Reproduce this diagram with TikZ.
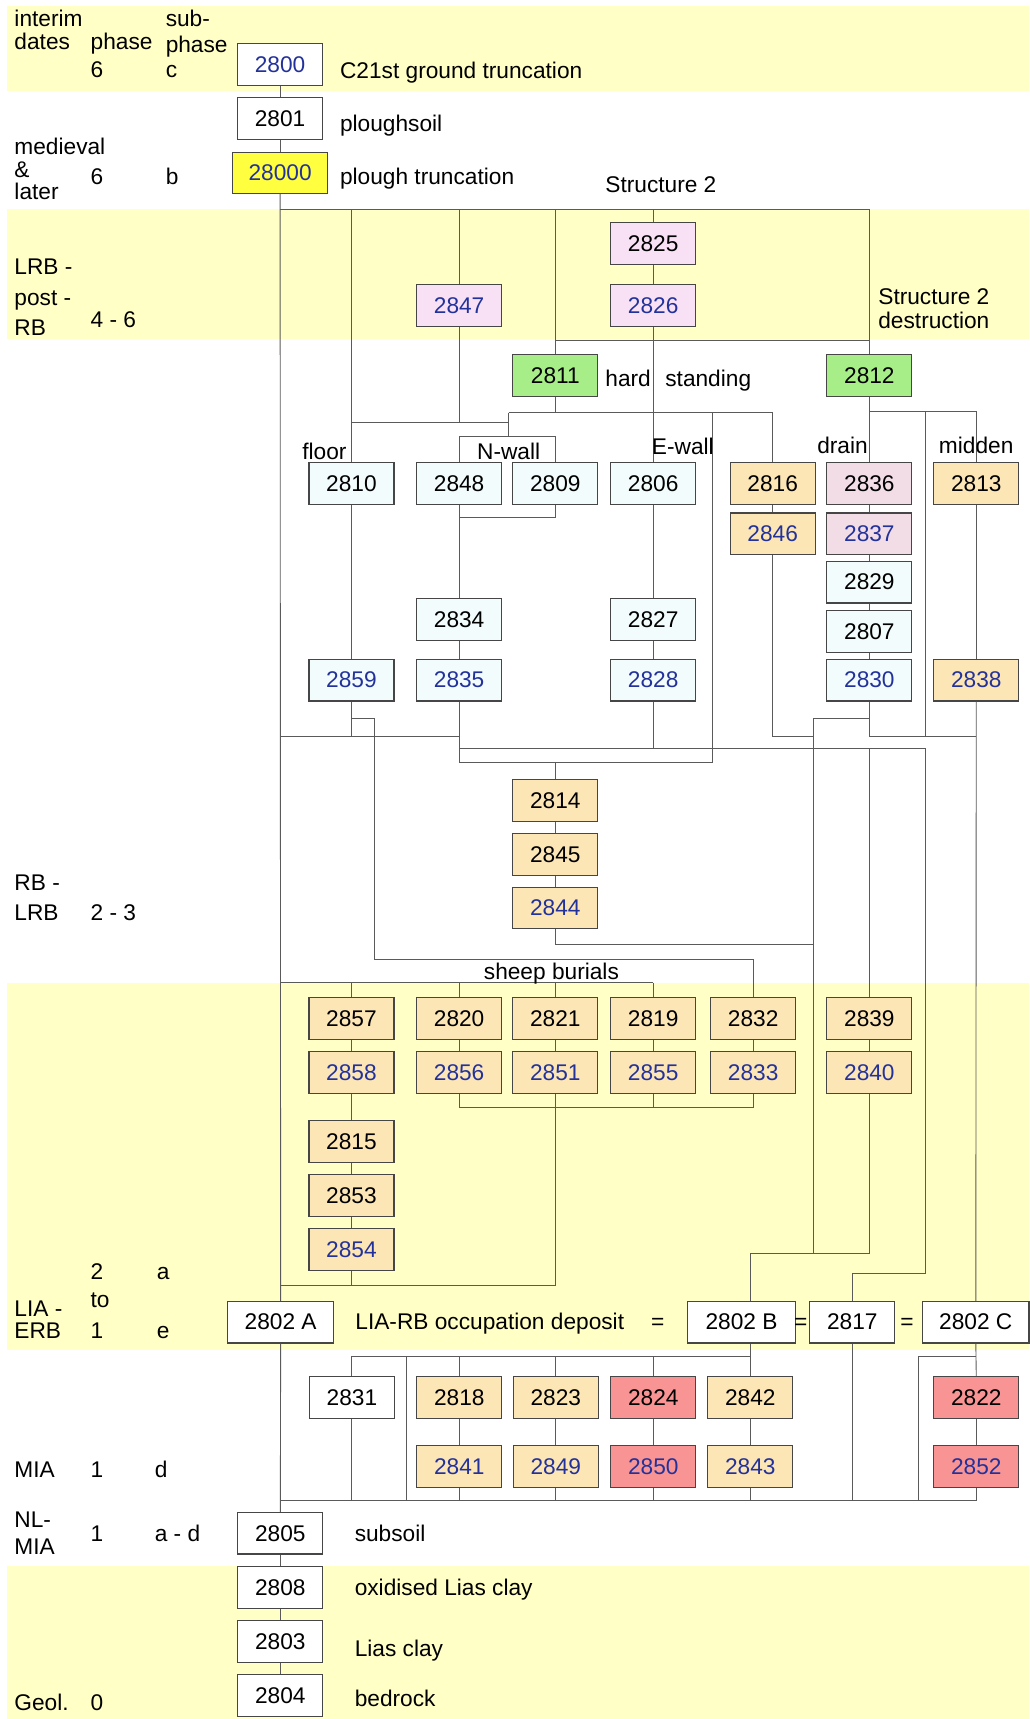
\documentclass[tikz,border=0pt]{standalone}
\usepackage{fontspec}
\setmainfont{Liberation Sans}
\definecolor{bandyellow}{RGB}{255,255,198}
\definecolor{cutyellow}{RGB}{255,255,64}
\definecolor{ctxpink}{RGB}{248,225,244}
\definecolor{drainpink}{RGB}{242,221,230}
\definecolor{hardgreen}{RGB}{168,238,136}
\definecolor{wallcyan}{RGB}{242,252,252}
\definecolor{fillorange}{RGB}{252,230,182}
\definecolor{burnred}{RGB}{249,148,148}
\definecolor{cutblue}{RGB}{35,50,155}
\definecolor{linegray}{RGB}{90,90,90}
\definecolor{boxgray}{RGB}{70,70,70}

\tikzstyle{ctx} = [draw=boxgray, line width=1pt, minimum width=77.5pt, minimum height=38pt, inner sep=0pt, font=\fontsize{20.7}{24}\selectfont]
\tikzstyle{cutno} = [text=cutblue]
\tikzstyle{plainbox} = [fill=white]
\tikzstyle{yellowbox} = [fill=cutyellow]
\tikzstyle{pinkbox} = [fill=ctxpink]
\tikzstyle{drainbox} = [fill=drainpink]
\tikzstyle{greenbox} = [fill=hardgreen]
\tikzstyle{cyanbox} = [fill=wallcyan]
\tikzstyle{orangebox} = [fill=fillorange]
\tikzstyle{redbox} = [fill=burnred]
\tikzstyle{lbl} = [inner sep=0pt, anchor=base west, font=\fontsize{20.7}{24}\selectfont]
\tikzstyle{eq} = [inner sep=0pt, anchor=base, font=\fontsize{20.7}{24}\selectfont]
\tikzstyle{link} = [draw=linegray, line width=0.8pt]

\begin{document}
\begin{tikzpicture}[x=1pt,y=-1pt]
\useasboundingbox (0,0) rectangle (939,1568);
\fill[bandyellow] (6.5,5.5) rectangle (939,82.7);
\fill[bandyellow] (6.5,190.7) rectangle (939,309.4);
\fill[bandyellow] (6.5,896.5) rectangle (939,1231);
\fill[bandyellow] (6.5,1428.8) rectangle (939,1568);

\coordinate (jtop) at (0,190.7);
\coordinate (jhs) at (0,310.3);
\coordinate (jdr) at (0,375.7);
\coordinate (jnw) at (463.9,376.3);
\coordinate (jfl) at (0,385.4);
\coordinate (nwall) at (463.9,398.5);
\coordinate (jnwb) at (0,472);
\coordinate (jew) at (649.8,376.3);
\coordinate (jmid) at (844,375.7);
\coordinate (jsh) at (0,655.5);
\coordinate (jpst) at (742.2,655.5);
\coordinate (jshp) at (341.5,655.5);
\coordinate (jlow) at (0,672);
\coordinate (jbar) at (0,682.3);
\coordinate (jpit) at (0,695.8);
\coordinate (jdep) at (0,861.5);
\coordinate (jshw) at (0,874.9);
\coordinate (jsb) at (0,896.5);
\coordinate (jsk) at (0,1010);
\coordinate (jbz) at (684.4,1143.5);
\coordinate (jst) at (0,1162);
\coordinate (jfa) at (0,1172.7);
\coordinate (jocc) at (0,1237.5);
\coordinate (jocl) at (370.7,1237.5);
\coordinate (jocr) at (837.4,1237.5);
\coordinate (jbase) at (0,1369);

\node[ctx, plainbox, cutno] (c2800) at (255.5,58.8) {2800};
\node[ctx, plainbox] (c2801) at (255.5,108) {2801};
\node[ctx, yellowbox, cutno, minimum width=87pt, minimum height=37.5pt] (c28000) at (255.5,157.7) {28000};
\node[ctx, pinkbox] (c2825) at (595.8,222.2) {2825};
\node[ctx, pinkbox, cutno] (c2826) at (595.8,278.9) {2826};
\node[ctx, pinkbox, cutno] (c2847) at (418.8,278.9) {2847};
\node[ctx, greenbox] (c2811) at (506.5,342.7) {2811};
\node[ctx, greenbox] (c2812) at (793,342.7) {2812};
\node[ctx, cyanbox] (c2810) at (320.6,440.9) {2810};
\node[ctx, cyanbox] (c2848) at (418.8,440.9) {2848};
\node[ctx, cyanbox] (c2809) at (506.5,440.9) {2809};
\node[ctx, cyanbox] (c2806) at (595.8,440.9) {2806};
\node[ctx, orangebox] (c2816) at (704.8,440.9) {2816};
\node[ctx, drainbox] (c2836) at (793,440.9) {2836};
\node[ctx, orangebox] (c2813) at (890.5,440.9) {2813};
\node[ctx, orangebox, cutno] (c2846) at (704.8,486.9) {2846};
\node[ctx, drainbox, cutno] (c2837) at (793,486.9) {2837};
\node[ctx, cyanbox] (c2829) at (793,531) {2829};
\node[ctx, cyanbox] (c2807) at (793,576.2) {2807};
\node[ctx, cyanbox] (c2834) at (418.8,565) {2834};
\node[ctx, cyanbox] (c2827) at (595.8,565) {2827};
\node[ctx, cyanbox, cutno] (c2859) at (320.6,620.4) {2859};
\node[ctx, cyanbox, cutno] (c2835) at (418.8,620.4) {2835};
\node[ctx, cyanbox, cutno] (c2828) at (595.8,620.4) {2828};
\node[ctx, cyanbox, cutno] (c2830) at (793,620.4) {2830};
\node[ctx, orangebox, cutno] (c2838) at (890.5,620.4) {2838};
\node[ctx, orangebox] (c2814) at (506.5,730.2) {2814};
\node[ctx, orangebox] (c2845) at (506.5,779.2) {2845};
\node[ctx, orangebox, cutno] (c2844) at (506.5,828.2) {2844};
\node[ctx, orangebox] (c2857) at (320.6,929.2) {2857};
\node[ctx, orangebox] (c2820) at (418.8,929.2) {2820};
\node[ctx, orangebox] (c2821) at (506.5,929.2) {2821};
\node[ctx, orangebox] (c2819) at (595.8,929.2) {2819};
\node[ctx, orangebox] (c2832) at (687,929.2) {2832};
\node[ctx, orangebox] (c2839) at (793,929.2) {2839};
\node[ctx, orangebox, cutno] (c2858) at (320.6,978.3) {2858};
\node[ctx, orangebox, cutno] (c2856) at (418.8,978.3) {2856};
\node[ctx, orangebox, cutno] (c2851) at (506.5,978.3) {2851};
\node[ctx, orangebox, cutno] (c2855) at (595.8,978.3) {2855};
\node[ctx, orangebox, cutno] (c2833) at (687,978.3) {2833};
\node[ctx, orangebox, cutno] (c2840) at (793,978.3) {2840};
\node[ctx, orangebox] (c2815) at (320.6,1041.1) {2815};
\node[ctx, orangebox] (c2853) at (320.6,1090.4) {2853};
\node[ctx, orangebox, cutno] (c2854) at (320.6,1139.7) {2854};
\node[ctx, plainbox, minimum width=97pt] (c2802a) at (256,1206) {2802 A};
\node[ctx, plainbox, minimum width=98pt] (c2802b) at (676.4,1206) {2802 B};
\node[ctx, plainbox] (c2817) at (777.4,1206) {2817};
\node[ctx, plainbox, minimum width=97pt] (c2802c) at (890.1,1206) {2802 C};
\node[ctx, plainbox] (c2831) at (321,1274.6) {2831};
\node[ctx, orangebox] (c2818) at (419,1274.6) {2818};
\node[ctx, orangebox] (c2823) at (507,1274.6) {2823};
\node[ctx, redbox] (c2824) at (595.9,1274.6) {2824};
\node[ctx, orangebox] (c2842) at (684.4,1274.6) {2842};
\node[ctx, redbox] (c2822) at (890.5,1274.6) {2822};
\node[ctx, orangebox, cutno] (c2841) at (419,1337.7) {2841};
\node[ctx, orangebox, cutno] (c2849) at (507,1337.7) {2849};
\node[ctx, redbox, cutno] (c2850) at (595.9,1337.7) {2850};
\node[ctx, orangebox, cutno] (c2843) at (684.4,1337.7) {2843};
\node[ctx, redbox, cutno] (c2852) at (890.5,1337.7) {2852};
\node[ctx, plainbox] (c2805) at (255.7,1398.5) {2805};
\node[ctx, plainbox] (c2808) at (255.7,1448) {2808};
\node[ctx, plainbox] (c2803) at (255.7,1497.4) {2803};
\node[ctx, plainbox] (c2804) at (255.7,1546.7) {2804};

\draw[link] (c2800.south) -- (c2801.north);
\draw[link] (c2801.south) -- (c28000.north);
\draw[link] (c28000.south) -- (c2802a.north);
\draw[link] (c28000.south |- jtop) -| (c2812.north);
\draw[link] (c2810.north |- jtop) -- (c2810.north);
\draw[link] (c2847.north |- jtop) -- (c2847.north);
\draw[link] (c2811.north |- jtop) -- (c2811.north);
\draw[link] (c2825.north |- jtop) -- (c2825.north);
\draw[link] (c2825.south) -- (c2826.north);
\draw[link] (c2826.south) -- (c2806.north);
\draw[link] (c2811.north |- jhs) -- (c2812.north |- jhs);
\draw[link] (c2811.south) -- (c2811.south |- jnw);
\draw[link] (jnw) -- (c2816.north |- jnw) -- (c2816.north);
\draw[link] (jnw) -- (nwall);
\draw[link] (c2848.north) |- (nwall) -| (c2809.north);
\draw[link] (c2847.south) -- (c2847.south |- jfl);
\draw[link] (c2810.north |- jfl) -- (jnw |- jfl);
\draw[link] (jew) -- (jew |- jpit) -- (c2835.south |- jpit);
\draw[link] (c2814.north |- jpit) -- (c2814.north);
\draw[link] (c2812.south) -- (c2836.north);
\draw[link] (c2812.south |- jdr) -| (c2813.north);
\draw[link] (jmid) -- (jmid |- jlow);
\draw[link] (c2836.south) -- (c2837.north);
\draw[link] (c2837.south) -- (c2829.north);
\draw[link] (c2829.south) -- (c2807.north);
\draw[link] (c2807.south) -- (c2830.north);
\draw[link] (c2830.south) -- (c2830.south |- jlow) -- (c2838.south |- jlow);
\draw[link] (c2830.south |- jsh) -- (jpst) -- (jpst |- jbz);
\draw[link] (c2816.south) -- (c2846.north);
\draw[link] (c2846.south) |- (jpst |- jlow);
\draw[link] (c2813.south) -- (c2838.north);
\draw[link] (c2838.south) -- (c2802c.north);
\draw[link] (c2810.south) -- (c2859.north);
\draw[link] (c2859.south) -- (c2859.south |- jlow);
\draw[link] (c2859.south |- jsh) -- (jshp) |- (c2832.north |- jshw) -- (c2832.north);
\draw[link] (c28000.south |- jlow) -- (c2835.south |- jlow);
\draw[link] (c2848.south) |- (c2809.south |- jnwb) -- (c2809.south);
\draw[link] (c2848.south) -- (c2834.north);
\draw[link] (c2834.south) -- (c2835.north);
\draw[link] (c2835.south) -- (c2835.south |- jpit);
\draw[link] (c2806.south) -- (c2827.north);
\draw[link] (c2827.south) -- (c2828.north);
\draw[link] (c2828.south) -- (c2828.south |- jbar);
\draw[link] (c2835.south |- jbar) -- (jmid |- jbar) -- (jmid |- jst) -| (c2817.north);
\draw[link] (c2839.north |- jbar) -- (c2839.north);
\draw[link] (c2814.south) -- (c2845.north);
\draw[link] (c2845.south) -- (c2844.north);
\draw[link] (c2844.south) |- (jpst |- jdep);
\draw[link] (c28000.south |- jsb) -- (c2819.north |- jsb);
\draw[link] (c2857.north |- jsb) -- (c2857.north);
\draw[link] (c2820.north |- jsb) -- (c2820.north);
\draw[link] (c2821.north |- jsb) -- (c2821.north);
\draw[link] (c2819.north |- jsb) -- (c2819.north);
\draw[link] (c2857.south) -- (c2858.north);
\draw[link] (c2858.south) -- (c2815.north);
\draw[link] (c2815.south) -- (c2853.north);
\draw[link] (c2853.south) -- (c2854.north);
\draw[link] (c2854.south) -- (c2854.south |- jfa);
\draw[link] (c28000.south |- jfa) -- (c2851.south |- jfa);
\draw[link] (c2820.south) -- (c2856.north);
\draw[link] (c2821.south) -- (c2851.north);
\draw[link] (c2819.south) -- (c2855.north);
\draw[link] (c2832.south) -- (c2833.north);
\draw[link] (c2856.south) |- (c2833.south |- jsk) -- (c2833.south);
\draw[link] (c2851.south) -- (c2851.south |- jfa);
\draw[link] (c2855.south) -- (c2855.south |- jsk);
\draw[link] (c2839.south) -- (c2840.north);
\draw[link] (c2840.south) -- (c2840.south |- jbz) -- (jbz) -- (jbz |- c2802b.north);
\draw[link] (c2802a.south) -- (c2805.north);
\draw[link] (c2802a.south |- jbase) -- (c2852.south |- jbase);
\draw[link] (jbz |- c2802b.south) -- (jbz |- jocc) -- (c2831.north |- jocc) -- (c2831.north);
\draw[link] (jocl) -- (jocl |- jbase);
\draw[link] (c2818.north |- jocc) -- (c2818.north);
\draw[link] (c2823.north |- jocc) -- (c2823.north);
\draw[link] (c2824.north |- jocc) -- (c2824.north);
\draw[link] (c2842.north |- jocc) -- (c2842.north);
\draw[link] (c2831.south) -- (c2831.south |- jbase);
\draw[link] (c2818.south) -- (c2841.north);
\draw[link] (c2823.south) -- (c2849.north);
\draw[link] (c2824.south) -- (c2850.north);
\draw[link] (c2842.south) -- (c2843.north);
\draw[link] (c2841.south) -- (c2841.south |- jbase);
\draw[link] (c2849.south) -- (c2849.south |- jbase);
\draw[link] (c2850.south) -- (c2850.south |- jbase);
\draw[link] (c2843.south) -- (c2843.south |- jbase);
\draw[link] (c2817.south) -- (c2817.south |- jbase);
\draw[link] (c2802c.south) -- (c2822.north);
\draw[link] (c2802c.south |- jocc) -- (jocr) -- (jocr |- jbase);
\draw[link] (c2822.south) -- (c2852.north);
\draw[link] (c2852.south) -- (c2852.south |- jbase);
\draw[link] (c2805.south) -- (c2808.north);
\draw[link] (c2808.south) -- (c2803.north);
\draw[link] (c2803.south) -- (c2804.north);

\node[lbl] (tinterim) at (13,24) {interim};
\node[lbl] (tdates) at (13,45) {dates};
\node[lbl] (tphase) at (82.5,45) {phase};
\node[lbl] (tsub) at (151,24) {sub-};
\node[lbl] (tsubphase) at (151,48) {phase};
\node[lbl] (tsix) at (82.5,71) {6};
\node[lbl] (tc) at (151,71) {c};
\node[lbl] (tmed) at (13,141) {medieval};
\node[lbl] (tamp) at (13,162) {\&};
\node[lbl] (tlater) at (13,182) {later};
\node[lbl] (tsixb) at (82.5,168) {6};
\node[lbl] (tb) at (151,168) {b};
\node[lbl] (tlrb) at (13,250) {LRB -};
\node[lbl] (tpost) at (13,279) {post -};
\node[lbl] (trb) at (13,306) {RB};
\node[lbl] (tfoursix) at (82.5,299) {4 - 6};
\node[lbl] (trbb) at (13,812) {RB -};
\node[lbl] (tlrbb) at (13,840) {LRB};
\node[lbl] (ttwothree) at (82.5,840) {2 - 3};
\node[lbl] (ttwo) at (82.5,1167) {2};
\node[lbl] (ta) at (143,1167) {a};
\node[lbl] (tto) at (82.5,1193) {to};
\node[lbl] (tlia) at (13,1201) {LIA -};
\node[lbl] (terb) at (13,1221) {ERB};
\node[lbl] (tone) at (82.5,1221) {1};
\node[lbl] (te) at (143,1221) {e};
\node[lbl] (tmia) at (13,1348) {MIA};
\node[lbl] (toneb) at (82.5,1348) {1};
\node[lbl] (td) at (141,1348) {d};
\node[lbl] (tnl) at (13,1393) {NL-};
\node[lbl] (tmiab) at (13,1418) {MIA};
\node[lbl] (tonec) at (82.5,1406) {1};
\node[lbl] (tad) at (141,1406) {a - d};
\node[lbl] (tgeol) at (13,1560) {Geol.};
\node[lbl] (tzero) at (82.5,1560) {0};

\node[lbl] (dtrunc) at (310,72) {C21st ground truncation};
\node[lbl] (dplough) at (310,120) {ploughsoil};
\node[lbl] (dptrunc) at (310,168) {plough truncation};
\node[lbl] (dstruct) at (552,176) {Structure 2};
\node[lbl] (dstructb) at (801,278) {Structure 2};
\node[lbl] (ddestr) at (801,300) {destruction};
\node[lbl] (dhard) at (552,353) {hard};
\node[lbl] (dstand) at (606.7,353) {standing};
\node[lbl] (dfloor) at (275.6,419) {floor};
\node[lbl] (dnwall) at (435,419) {N-wall};
\node[lbl] (dewall) at (594.5,415) {E-wall};
\node[lbl] (ddrain) at (745.3,414) {drain};
\node[lbl] (dmidden) at (856.3,414) {midden};
\node[lbl] (dsheep) at (441.2,893) {sheep burials};
\node[lbl] (docc) at (324,1213) {LIA-RB occupation deposit};
\node[eq] (eqa) at (600,1213) {=};
\node[eq] (eqb) at (730.5,1213) {=};
\node[eq] (eqc) at (827.4,1213) {=};
\node[lbl] (dsubsoil) at (323.4,1406) {subsoil};
\node[lbl] (doxid) at (323.4,1455) {oxidised Lias clay};
\node[lbl] (dlias) at (323.4,1511) {Lias clay};
\node[lbl] (dbed) at (323.4,1557) {bedrock};
\end{tikzpicture}
\end{document}
